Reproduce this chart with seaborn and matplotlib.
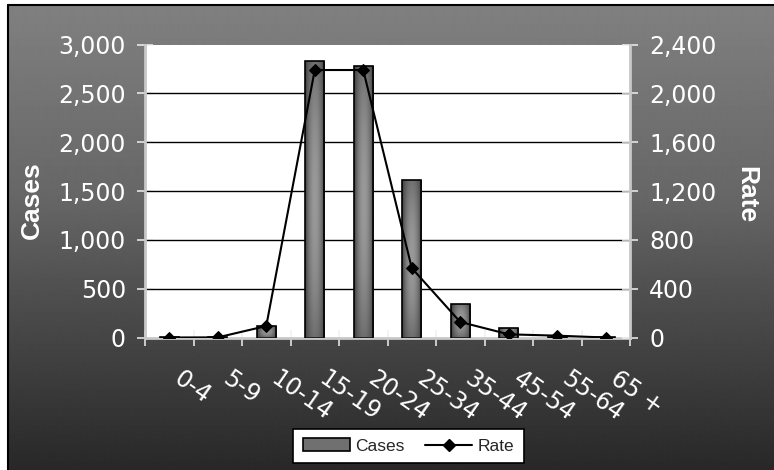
import numpy as np
import pandas as pd
import matplotlib
matplotlib.use("Agg")
import matplotlib.pyplot as plt
import matplotlib.transforms as mtransforms
import seaborn as sns
from matplotlib.patches import Patch
from matplotlib.lines import Line2D
from matplotlib.ticker import FuncFormatter, FixedLocator

# Cases and rate by age group
age_groups = ["0-4", "5-9", "10-14", "15-19", "20-24", "25-34", "35-44", "45-54", "55-64", "65 +"]
cases = [1, 3, 118, 2834, 2780, 1613, 343, 97, 8, 2]
rate = [0, 1, 94, 2191, 2191, 569, 127, 26, 15, 0]

cases_ticks = [0, 500, 1000, 1500, 2000, 2500, 3000]
rate_ticks = [0, 400, 800, 1200, 1600, 2000, 2400]

sns.set_theme(style="white")
plt.rcParams["font.family"] = ["DejaVu Sans"]

W, H = 774, 470
fig = plt.figure(figsize=(W / 100, H / 100), dpi=100)
fig.patch.set_facecolor("white")

# grey gradient chart background with a black frame on top and left
bg = fig.add_axes([8 / W, 0, 1 - 8 / W, 1 - 5 / H])
rows = np.arange(5, 470)
shade = np.interp(rows, [5, 200, 280, 470], [128, 102, 82, 40]) / 255.0
bg.imshow(np.repeat(shade[:, None], 2, axis=1), cmap="gray", vmin=0, vmax=1,
          aspect="auto", extent=[0, 1, 0, 1], origin="upper", interpolation="bilinear")
bg.set_axis_off()
fig.add_artist(Line2D([8 / W, 1], [1 - 5 / H, 1 - 5 / H], transform=fig.transFigure,
                      color="black", lw=1.5))
fig.add_artist(Line2D([8 / W, 8 / W], [0, 1 - 5 / H], transform=fig.transFigure,
                      color="black", lw=1.5))

df = pd.DataFrame({"Age": age_groups, "Cases": cases, "Rate": rate})
pos = np.arange(len(age_groups))

ax = fig.add_axes([145 / W, 1 - 337.5 / H, 485 / W, 293 / H])
ax.set_facecolor("white")
sns.barplot(data=df, x="Age", y="Cases", ax=ax, width=0.4, color="#6a6a6a",
            edgecolor="black", linewidth=1.2, zorder=3)

# cylinder-like shading inside each bar
u = np.linspace(0, 1, 80)
hz = 1 - (2 * u - 1) ** 2
vt = 1 - (2 * u - 1) ** 2
shading = 0.24 + 0.36 * hz[None, :] * (0.55 + 0.45 * vt[:, None])
for p in list(ax.patches):
    x0, y0, w, h = p.get_x(), p.get_y(), p.get_width(), p.get_height()
    if h <= 0:
        continue
    im = ax.imshow(shading, cmap="gray", vmin=0, vmax=1, extent=[x0, x0 + w, y0, y0 + h],
                   aspect="auto", zorder=3.5, interpolation="bilinear")
    im.set_clip_path(p)
    p.set_facecolor("none")
    p.set_zorder(4)

ax.set_xlim(-0.5, len(age_groups) - 0.5)
ax.set_ylim(cases_ticks[0], cases_ticks[-1])
ax.yaxis.set_major_locator(FixedLocator(cases_ticks))
ax.yaxis.set_major_formatter(FuncFormatter(lambda v, _: f"{v:,.0f}"))
ax.hlines(cases_ticks[1:-1], -0.5, len(age_groups) - 0.5, colors="black", lw=1, zorder=1)

ax.set_xticks(pos)
ax.set_xticklabels(age_groups, rotation=-35, ha="left", va="top", rotation_mode="anchor",
                   color="white", fontsize=17)
ax.xaxis.set_minor_locator(FixedLocator(np.arange(-0.5, len(age_groups), 1.0)))
ax.tick_params(axis="x", which="major", length=0, pad=21)
ax.tick_params(axis="x", which="minor", direction="inout", length=11.5, width=1.1,
               color="#f0f0f0", bottom=True)
ax.tick_params(axis="y", which="major", direction="inout", length=11.5, width=1.1,
               color="#f0f0f0", labelcolor="white", labelsize=17, pad=8, left=True)
ax.set_xlabel("")
ax.set_ylabel("Cases", fontfamily="Liberation Sans", fontweight="bold", fontsize=19,
              color="white", va="center", ha="center")
ax.yaxis.set_label_coords(-0.233, 0.468)

for side in ["top", "right"]:
    ax.spines[side].set_visible(False)
for side in ["left", "bottom"]:
    ax.spines[side].set_color("#c8c8c8")
    ax.spines[side].set_linewidth(2)

ax2 = ax.twinx()
sns.lineplot(x=pos, y=df["Rate"].to_numpy(), ax=ax2, sort=False, color="black",
             marker="D", markersize=6.3, markeredgecolor="black", linewidth=1.5, legend=False)
ax2.set_ylim(rate_ticks[0], rate_ticks[-1])
ax2.yaxis.set_major_locator(FixedLocator(rate_ticks))
ax2.yaxis.set_major_formatter(FuncFormatter(lambda v, _: f"{v:,.0f}"))
ax2.tick_params(axis="y", which="major", direction="inout", length=11.5, width=1.1,
                color="#f0f0f0", labelcolor="white", labelsize=17, pad=8, right=True)
ax2.set_ylabel("Rate", fontfamily="Liberation Sans", fontweight="bold", fontsize=19,
               color="white", rotation=-90, va="center", ha="center")
ax2.yaxis.set_label_coords(1.239, 0.488)
for side in ["top", "left", "bottom"]:
    ax2.spines[side].set_visible(False)
ax2.spines["right"].set_color("#c8c8c8")
ax2.spines["right"].set_linewidth(2)
ax2.patch.set_visible(False)
ax2.set_xlim(-0.5, len(age_groups) - 0.5)

# nudge the slanted category labels so each starts just right of its slot centre
shift = mtransforms.ScaledTranslation(14 / 100, 0, fig.dpi_scale_trans)
for lbl in ax.get_xticklabels():
    lbl.set_transform(lbl.get_transform() + shift)

handles = [
    Patch(facecolor="#707070", edgecolor="black", linewidth=1.2, label="Cases"),
    Line2D([], [], color="black", marker="D", markersize=6.3, linewidth=1.5, label="Rate"),
]
leg = fig.legend(handles=handles, loc="center", bbox_to_anchor=(408.5 / W, 1 - 446 / H),
                 ncol=2, frameon=True, fancybox=False, edgecolor="black", facecolor="white",
                 framealpha=1, prop={"family": "Liberation Sans", "size": 12.5},
                 handlelength=2.7, handleheight=0.7, columnspacing=1.2, handletextpad=0.3,
                 borderpad=0.55)
leg.get_frame().set_linewidth(1.2)

fig.savefig("out.png", dpi=100)
